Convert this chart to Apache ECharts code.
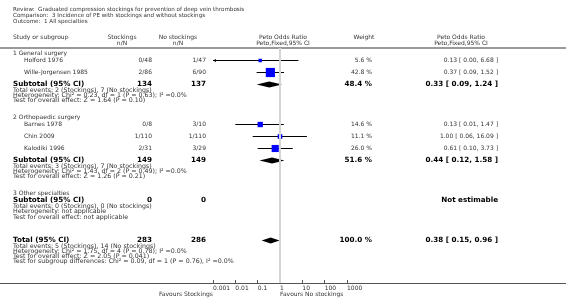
<!DOCTYPE html>
<html>
<head>
<meta charset="utf-8">
<script src="https://cdn.jsdelivr.net/npm/echarts@6/dist/echarts.min.js"></script>
<style>
  html, body { margin: 0; padding: 0; background: #fff; }
  #forest { width: 566px; height: 300px; }
</style>
</head>
<body>
<div id="forest"></div>
<script>
// studies
const studies = ['Holford 1976', 'Wille-Jorgensen 1985', 'Barnes 1978', 'Chin 2009', 'Kalodiki 1996']
const studyGroup = [0, 0, 1, 1, 1]
const stockingsNN = ['0/48', '2/86', '0/8', '1/110', '2/31']
const noStockingsNN = ['1/47', '6/90', '3/10', '1/110', '3/29']
const studyWeight = [5.6, 42.8, 14.6, 11.1, 26.0]
const studyOR = [0.13, 0.37, 0.13, 1.00, 0.61]
const studyLow = [0.00, 0.09, 0.01, 0.06, 0.10]
const studyHigh = [6.68, 1.52, 1.47, 16.09, 3.73]

// subgroups
const groupNames = ['1 General surgery', '2 Orthopaedic surgery', '3 Other specialties']
const groupStockingsN = [134, 149, 0]
const groupNoStockingsN = [137, 149, 0]
const groupWeight = [48.4, 51.6, null]
const groupOR = [0.33, 0.44, null]
const groupLow = [0.09, 0.12, null]
const groupHigh = [1.24, 1.58, null]
const groupNotes = [
  ['Total events: 2 (Stockings), 7 (No stockings)',
   'Heterogeneity: Chi\u00b2 = 0.23, df = 1 (P = 0.63); I\u00b2 =0.0%',
   'Test for overall effect: Z = 1.64 (P = 0.10)'],
  ['Total events: 3 (Stockings), 7 (No stockings)',
   'Heterogeneity: Chi\u00b2 = 1.43, df = 2 (P = 0.49); I\u00b2 =0.0%',
   'Test for overall effect: Z = 1.26 (P = 0.21)'],
  ['Total events: 0 (Stockings), 0 (No stockings)',
   'Heterogeneity: not applicable',
   'Test for overall effect: not applicable']
]

// overall
const totalStockingsN = 283
const totalNoStockingsN = 286
const totalWeight = 100.0
const totalOR = 0.38
const totalLow = 0.15
const totalHigh = 0.96
const totalNotes = [
  'Total events: 5 (Stockings), 14 (No stockings)',
  'Heterogeneity: Chi\u00b2 = 1.75, df = 4 (P = 0.78); I\u00b2 =0.0%',
  'Test for overall effect: Z = 2.05 (P = 0.041)',
  'Test for subgroup differences: Chi\u00b2 = 0.09, df = 1 (P = 0.76), I\u00b2 =0.0%'
]

const titleLines = [
  'Review:  Graduated compression stockings for prevention of deep vein thrombosis',
  'Comparison:  3 Incidence of PE with stockings and without stockings',
  'Outcome:  1 All specialties'
]

// layout (pixel rows)
const studyY = [60, 72, 124, 136, 148]
const groupLabelY = [53.5, 117, 193.5]
const groupSubY = [84, 160, 200.5]
const totalY = 240
const axisY = 283
const headLineY = 48
const xMin = 0.001, xMax = 1000

const FONT = '"DejaVu Sans", Verdana, sans-serif'
const txt = (x, y, text, o = {}) => ({
  type: 'text', x, y, silent: true,
  style: {
    text,
    font: (o.bold ? 'bold ' : '') + (o.size || 6) + 'px ' + FONT,
    fill: o.color || (o.bold ? '#000' : '#333'),
    textAlign: o.align || 'left',
    textVerticalAlign: 'middle'
  }
})
const ciText = (or, lo, hi) => or.toFixed(2) + ' [ ' + lo.toFixed(2) + ', ' + hi.toFixed(2) + ' ]'

const COL = { name: 13, study: 24, stock: 152, noStock: 206, weight: 372, ci: 498 }
const BOLD = { bold: true, size: 7.2 }
const BOLD_R = { bold: true, size: 7.2, align: 'right' }
const NOTE = { size: 6.3 }

const graphics = []
titleLines.forEach((s, i) => graphics.push(txt(13, 10 + i * 6, s, { size: 5.6 })))
graphics.push(txt(13, 37, 'Study or subgroup'))
graphics.push(txt(122, 37, 'Stockings', { align: 'center' }))
graphics.push(txt(122, 43, 'n/N', { align: 'center' }))
graphics.push(txt(178, 37, 'No stockings', { align: 'center' }))
graphics.push(txt(178, 43, 'n/N', { align: 'center' }))
graphics.push(txt(283, 37, 'Peto Odds Ratio', { align: 'center' }))
graphics.push(txt(283, 43, 'Peto,Fixed,95% CI', { align: 'center' }))
graphics.push(txt(364, 37, 'Weight', { align: 'center' }))
graphics.push(txt(461, 37, 'Peto Odds Ratio', { align: 'center' }))
graphics.push(txt(461, 43, 'Peto,Fixed,95% CI', { align: 'center' }))
graphics.push({ type: 'line', silent: true, shape: { x1: 0, y1: headLineY, x2: 566, y2: headLineY }, style: { stroke: '#9a9a9a', lineWidth: 2 } })
graphics.push({ type: 'line', silent: true, shape: { x1: 0, y1: axisY + 0.5, x2: 566, y2: axisY + 0.5 }, style: { stroke: '#555', lineWidth: 1 } })

studies.forEach((s, i) => {
  const y = studyY[i]
  graphics.push(txt(COL.study, y, s))
  graphics.push(txt(COL.stock, y, stockingsNN[i], { align: 'right' }))
  graphics.push(txt(COL.noStock, y, noStockingsNN[i], { align: 'right' }))
  graphics.push(txt(COL.weight, y, studyWeight[i].toFixed(1) + ' %', { align: 'right' }))
  graphics.push(txt(COL.ci, y, ciText(studyOR[i], studyLow[i], studyHigh[i]), { align: 'right' }))
})

groupNames.forEach((g, i) => {
  const y = groupSubY[i]
  graphics.push(txt(COL.name, groupLabelY[i], g))
  graphics.push(txt(COL.name, y, 'Subtotal (95% CI)', BOLD))
  graphics.push(txt(COL.stock, y, String(groupStockingsN[i]), BOLD_R))
  graphics.push(txt(COL.noStock, y, String(groupNoStockingsN[i]), BOLD_R))
  if (groupOR[i] != null) {
    graphics.push(txt(COL.weight, y, groupWeight[i].toFixed(1) + ' %', BOLD_R))
    graphics.push(txt(COL.ci, y, ciText(groupOR[i], groupLow[i], groupHigh[i]), BOLD_R))
  } else {
    graphics.push(txt(COL.ci, y, 'Not estimable', BOLD_R))
  }
  groupNotes[i].forEach((n, k) => graphics.push(txt(COL.name, y + 6 + k * 5.2, n, NOTE)))
})

graphics.push(txt(COL.name, totalY, 'Total (95% CI)', BOLD))
graphics.push(txt(COL.stock, totalY, String(totalStockingsN), BOLD_R))
graphics.push(txt(COL.noStock, totalY, String(totalNoStockingsN), BOLD_R))
graphics.push(txt(COL.weight, totalY, totalWeight.toFixed(1) + ' %', BOLD_R))
graphics.push(txt(COL.ci, totalY, ciText(totalOR, totalLow, totalHigh), BOLD_R))
totalNotes.forEach((n, k) => graphics.push(txt(COL.name, totalY + 6 + k * 5.2, n, NOTE)))

graphics.push(txt(213, 294, 'Favours Stockings', { align: 'right' }))
graphics.push(txt(280, 294, 'Favours No stockings'))

// marks: [or, low, high, y, weight, kind]
const marks = []
studies.forEach((s, i) => marks.push([studyOR[i], studyLow[i], studyHigh[i], studyY[i], studyWeight[i], 0]))
groupOR.forEach((v, i) => { if (v != null) marks.push([v, groupLow[i], groupHigh[i], groupSubY[i], groupWeight[i], 1]) })
marks.push([totalOR, totalLow, totalHigh, totalY, totalWeight, 1])

function renderItem(params, api) {
  const or = api.value(0), lo = api.value(1), hi = api.value(2), yv = api.value(3)
  const w = api.value(4), kind = api.value(5)
  const clipLo = lo < xMin, clipHi = hi > xMax
  const pC = api.coord([or, yv])
  const pL = api.coord([clipLo ? xMin : lo, yv])
  const pH = api.coord([clipHi ? xMax : hi, yv])
  const y = Math.round(pC[1]) + 0.5
  if (kind === 1) {
    const h = 3
    return {
      type: 'polygon',
      shape: { points: [[pL[0], y], [pC[0], y - h], [pH[0], y], [pC[0], y + h]] },
      style: { fill: '#000' }
    }
  }
  const s = Math.max(3.5, 1.4 * Math.sqrt(w))
  const children = [
    { type: 'line', shape: { x1: pL[0], y1: y, x2: pH[0], y2: y }, style: { stroke: '#000', lineWidth: 1 } },
    { type: 'rect', shape: { x: pC[0] - s / 2, y: y - s / 2, width: s, height: s }, style: { fill: '#0000ff' } }
  ]
  if (clipLo) {
    children.push({ type: 'polygon', shape: { points: [[pL[0], y], [pL[0] + 3, y - 1.5], [pL[0] + 3, y + 1.5]] }, style: { fill: '#000' } })
  }
  if (clipHi) {
    children.push({ type: 'polygon', shape: { points: [[pH[0], y], [pH[0] - 3, y - 1.5], [pH[0] - 3, y + 1.5]] }, style: { fill: '#000' } })
  }
  return { type: 'group', children }
}

const chart = echarts.init(document.getElementById('forest'), null, { renderer: 'canvas' })
chart.setOption({
  animation: false,
  backgroundColor: '#fff',
  grid: { left: 213, width: 134, top: headLineY, height: axisY - headLineY },
  xAxis: {
    type: 'log',
    logBase: 10,
    min: xMin,
    max: xMax,
    splitNumber: 6,
    axisLine: { show: false },
    axisTick: { show: true, inside: true, length: 3, lineStyle: { color: '#555' } },
    axisLabel: {
      show: true,
      interval: 0,
      hideOverlap: false,
      align: 'left',
      margin: 2,
      fontSize: 6,
      fontFamily: 'DejaVu Sans',
      color: '#333',
      formatter: v => String(+(+v).toPrecision(1))
    },
    splitLine: { show: false }
  },
  yAxis: { type: 'value', min: headLineY, max: axisY, inverse: true, show: false },
  series: [{
    type: 'custom',
    renderItem,
    data: marks,
    silent: true,
    markLine: {
      silent: true,
      symbol: 'none',
      label: { show: false },
      lineStyle: { color: '#d4d4d4', width: 2, type: 'solid' },
      data: [{ xAxis: 1 }]
    }
  }],
  graphic: graphics
})
</script>
</body>
</html>
